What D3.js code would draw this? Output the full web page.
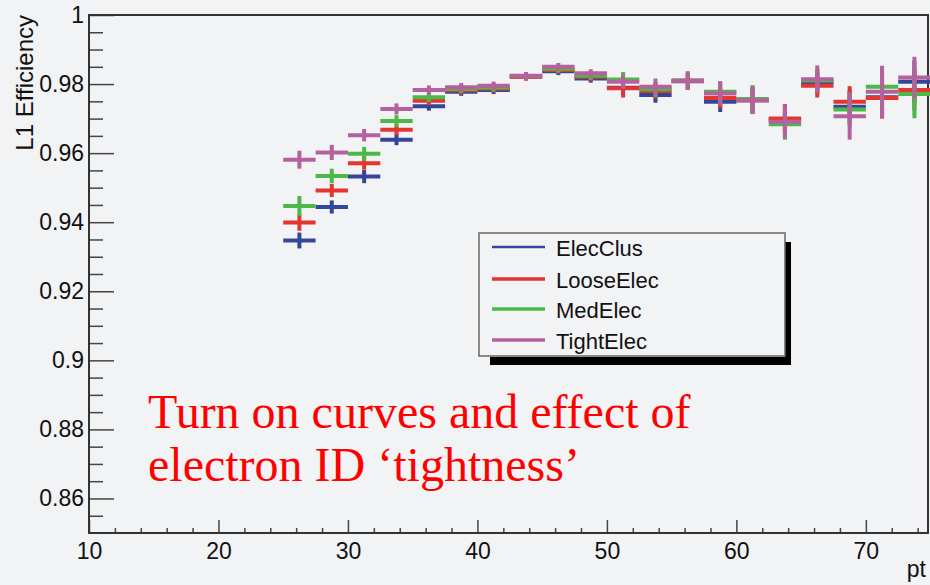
<!DOCTYPE html>
<html>
<head>
<meta charset="utf-8">
<script src="https://cdn.jsdelivr.net/npm/d3@7"></script>
<style>
  body { margin: 0; background: #f2f3f5; }
  svg { display: block; }
</style>
</head>
<body>
<div id="chart"></div>
<script>
const chartWidth = 930
const chartHeight = 585
const plot = ({ top: 15, right: 928, bottom: 533, left: 89 })

// bin centres in pt (bins are 2.5 wide)
const ptBins = [26.25, 28.75, 31.25, 33.75, 36.25, 38.75, 41.25, 43.75, 46.25, 48.75,
  51.25, 53.75, 56.25, 58.75, 61.25, 63.75, 66.25, 68.75, 71.25, 73.75]
const binHalfWidth = 1.25

const effElecClus = [0.9347, 0.9444, 0.9532, 0.9639, 0.9736, 0.9778, 0.9783, 0.9822, 0.9837, 0.9816,
  0.9789, 0.9768, 0.9808, 0.9749, 0.9753, 0.9697, 0.9805, 0.9734, 0.9762, 0.9807]
const effLooseElec = [0.9399, 0.9492, 0.9571, 0.9668, 0.9752, 0.9782, 0.9787, 0.9821, 0.9841, 0.9821,
  0.9788, 0.9780, 0.9809, 0.9760, 0.9753, 0.9700, 0.9795, 0.9749, 0.9760, 0.9783]
const effMedElec = [0.9447, 0.9534, 0.9598, 0.9693, 0.9762, 0.9786, 0.9790, 0.9823, 0.9844, 0.9824,
  0.9813, 0.9785, 0.9810, 0.9778, 0.9757, 0.9684, 0.9810, 0.9726, 0.9792, 0.9771]
const effTightElec = [0.9581, 0.9602, 0.9652, 0.9728, 0.9783, 0.9791, 0.9795, 0.9824, 0.9850, 0.9831,
  0.9807, 0.9792, 0.9810, 0.9773, 0.9753, 0.9691, 0.9814, 0.9707, 0.9778, 0.9819]

const errElecClus = [0.0023, 0.0019, 0.0019, 0.0016, 0.0013, 0.0012, 0.0012, 0.0011, 0.0011, 0.0012,
  0.0022, 0.0022, 0.0024, 0.0030, 0.0038, 0.0042, 0.0034, 0.0050, 0.0058, 0.0060]
const errLooseElec = [0.0024, 0.0019, 0.0019, 0.0016, 0.0013, 0.0012, 0.0012, 0.0011, 0.0011, 0.0012,
  0.0027, 0.0022, 0.0024, 0.0030, 0.0038, 0.0042, 0.0034, 0.0045, 0.0060, 0.0060]
const errMedElec = [0.0029, 0.0021, 0.0020, 0.0017, 0.0014, 0.0012, 0.0012, 0.0011, 0.0011, 0.0012,
  0.0022, 0.0022, 0.0026, 0.0030, 0.0040, 0.0045, 0.0034, 0.0050, 0.0058, 0.0070]
const errTightElec = [0.0026, 0.0022, 0.0018, 0.0016, 0.0013, 0.0012, 0.0012, 0.0011, 0.0011, 0.0012,
  0.0020, 0.0024, 0.0027, 0.0035, 0.0040, 0.0048, 0.0040, 0.0068, 0.0075, 0.0060]

const seriesNames = ['ElecClus', 'LooseElec', 'MedElec', 'TightElec']
const seriesColors = ['#34469a', '#e53531', '#4cb846', '#b5619f']
const seriesValues = [effElecClus, effLooseElec, effMedElec, effTightElec]
const seriesErrors = [errElecClus, errLooseElec, errMedElec, errTightElec]

const xMajorTicks = [10, 20, 30, 40, 50, 60, 70]
const yMajorTicks = [0.86, 0.88, 0.9, 0.92, 0.94, 0.96, 0.98, 1]
const yTickLabels = ['0.86', '0.88', '0.9', '0.92', '0.94', '0.96', '0.98', '1']

const annotationLines = ['Turn on curves and effect of', 'electron ID \u2018tightness\u2019']

let xScale = d3.scaleLinear()
    .domain([10, 74.8])
    .range([plot.left, plot.right])

let yScale = d3.scaleLinear()
    .domain([0.85, 1])
    .range([plot.bottom, plot.top])

const svg = d3.select('#chart').append('svg')
    .attr('width', chartWidth)
    .attr('height', chartHeight)
    .style('font-family', 'Liberation Sans, Arial, sans-serif')

svg.append('rect')
    .attr('width', chartWidth)
    .attr('height', chartHeight)
    .attr('fill', '#f2f3f5')

// minor ticks
const xMinor = d3.range(12, 75, 2).filter(v => v % 10 !== 0)
const yMinor = d3.range(0.855, 1, 0.005).filter(v => Math.abs(v * 50 - Math.round(v * 50)) > 1e-6)

svg.append('g')
    .attr('transform', 'translate(0,' + plot.bottom + ')')
    .call(d3.axisBottom(xScale).tickValues(xMinor).tickSize(-5).tickFormat(''))
    .call(g => g.select('.domain').remove())
    .call(g => g.selectAll('line').attr('stroke', '#444').attr('stroke-width', 1.5))

svg.append('g')
    .attr('transform', 'translate(' + plot.left + ',0)')
    .call(d3.axisLeft(yScale).tickValues(yMinor).tickSize(-14).tickFormat(''))
    .call(g => g.select('.domain').remove())
    .call(g => g.selectAll('line').attr('stroke', '#444').attr('stroke-width', 1.5))

// major ticks + labels
svg.append('g')
    .attr('transform', 'translate(0,' + plot.bottom + ')')
    .call(d3.axisBottom(xScale).tickValues(xMajorTicks).tickSize(-13).tickPadding(10))
    .call(g => g.select('.domain').remove())
    .call(g => g.selectAll('line').attr('stroke', '#444').attr('stroke-width', 1.5))
    .call(g => g.selectAll('text').attr('fill', '#111').style('font-size', '23px')
      .style('font-family', 'Liberation Sans, Arial, sans-serif'))

svg.append('g')
    .attr('transform', 'translate(' + plot.left + ',0)')
    .call(d3.axisLeft(yScale).tickValues(yMajorTicks).tickSize(-25).tickPadding(5)
      .tickFormat((d, i) => yTickLabels[i]))
    .call(g => g.select('.domain').remove())
    .call(g => g.selectAll('line').attr('stroke', '#444').attr('stroke-width', 1.5))
    .call(g => g.selectAll('text').attr('fill', '#111').style('font-size', '23px')
      .style('font-family', 'Liberation Sans, Arial, sans-serif'))

// frame
svg.append('rect')
    .attr('x', plot.left)
    .attr('y', plot.top)
    .attr('width', plot.right - plot.left)
    .attr('height', plot.bottom - plot.top)
    .attr('fill', 'none')
    .attr('stroke', '#333')
    .attr('stroke-width', 2)

// axis titles
svg.append('text')
    .attr('transform', 'translate(33,' + plot.top + ') rotate(-90)')
    .style('text-anchor', 'end')
    .style('font-size', '24px')
    .attr('fill', '#111')
    .text('L1 Efficiency')

svg.append('text')
    .attr('x', 926)
    .attr('y', 577)
    .style('text-anchor', 'end')
    .style('font-size', '23px')
    .attr('fill', '#111')
    .text('pt')

// data: horizontal bin bar + vertical error bar for each series
seriesNames.forEach(function (name, s) {
  const pts = ptBins.map((x, i) => ({ x: x, y: seriesValues[s][i], e: seriesErrors[s][i] }))
  const g = svg.append('g')
      .attr('stroke', seriesColors[s])
      .attr('stroke-width', 4)

  g.selectAll('line.h')
      .data(pts)
      .enter().append('line')
      .attr('class', 'h')
      .attr('x1', d => xScale(d.x - binHalfWidth))
      .attr('x2', d => xScale(d.x + binHalfWidth))
      .attr('y1', d => yScale(d.y))
      .attr('y2', d => yScale(d.y))

  g.selectAll('line.v')
      .data(pts)
      .enter().append('line')
      .attr('class', 'v')
      .attr('x1', d => xScale(d.x))
      .attr('x2', d => xScale(d.x))
      .attr('y1', d => yScale(d.y - d.e))
      .attr('y2', d => yScale(d.y + d.e))
})

// legend
const lg = { x: 479, y: 233, w: 306, h: 123 }
svg.append('path')
    .attr('d', 'M' + (lg.x + lg.w) + ',' + (lg.y + 9) + 'h6v' + (lg.h + 0) + 'H' + (lg.x + 11) + 'v-8H' + (lg.x + lg.w) + 'Z')
    .attr('fill', '#000')

svg.append('rect')
    .attr('x', lg.x)
    .attr('y', lg.y)
    .attr('width', lg.w)
    .attr('height', lg.h)
    .attr('fill', '#f2f3f5')
    .attr('stroke', '#666')
    .attr('stroke-width', 1.5)

const legendRows = [247, 279, 309, 340]
seriesNames.forEach(function (name, s) {
  svg.append('line')
      .attr('x1', 492)
      .attr('x2', 545)
      .attr('y1', legendRows[s])
      .attr('y2', legendRows[s])
      .attr('stroke', seriesColors[s])
      .attr('stroke-width', s === 0 ? 2.5 : 3.5)
  svg.append('text')
      .attr('x', 556)
      .attr('y', legendRows[s] + 1)
      .attr('dy', '0.35em')
      .style('font-size', '22px')
      .attr('fill', '#111')
      .text(name)
})

// annotation
svg.append('g')
    .selectAll('text')
    .data(annotationLines)
    .enter().append('text')
    .attr('x', 148)
    .attr('y', (d, i) => 428 + i * 53)
    .attr('fill', '#ff0000')
    .style('font-family', 'Liberation Serif, Times New Roman, serif')
    .style('font-size', '48px')
    .text(d => d)
</script>
</body>
</html>
